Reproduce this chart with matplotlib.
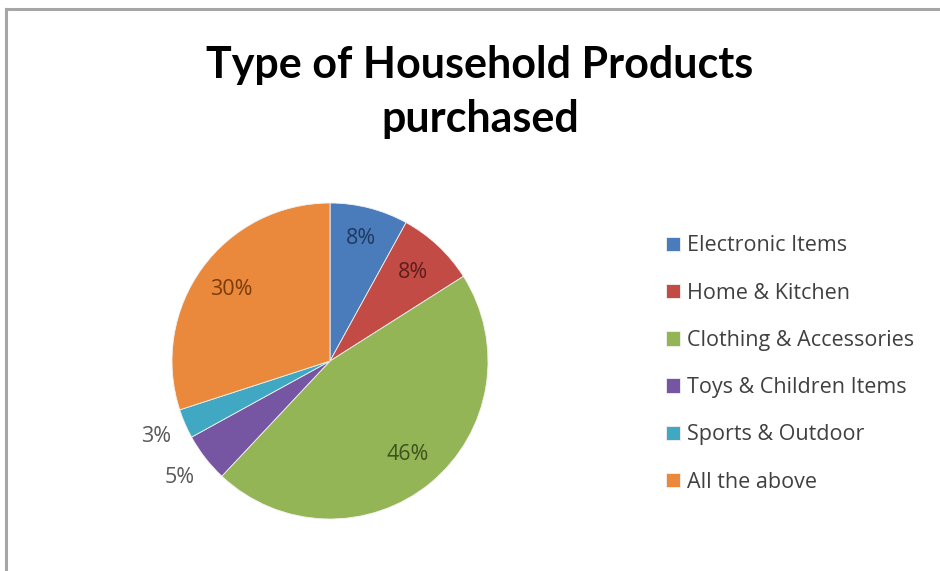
import matplotlib
matplotlib.use("Agg")
import matplotlib.pyplot as plt
import numpy as np

categories = ["Electronic Items", "Home & Kitchen", "Clothing & Accessories",
              "Toys & Children Items", "Sports & Outdoor", "All the above"]
shares = [8, 8, 46, 5, 3, 30]
title = "Type of Household Products\npurchased"

slice_colors = ["#4A7CBC", "#C24B45", "#93B555", "#7655A2", "#40A8C2", "#EA883B"]
label_colors = ["#1F3A60", "#5E1E1C", "#3E5220", "#595959", "#595959", "#7A3C0A"]
label_radius = [0.80, 0.77, 0.77, 1.20, 1.20, 0.77]

plt.rcParams["font.family"] = ["Open Sans", "DejaVu Sans"]

W, H = 940, 571
fig = plt.figure(figsize=(W / 100, H / 100), dpi=100)
fig.patch.set_facecolor("white")

# chart frame lines (top and left edges)
fig.add_artist(plt.Line2D([6 / W, 1], [1 - 9 / H, 1 - 9 / H], color="#A6A6A6", lw=2.2))
fig.add_artist(plt.Line2D([6 / W, 6 / W], [0, 1 - 9 / H], color="#A6A6A6", lw=2.2))

# pie axes: square box centred on the pie
cx, cy, r, half = 330, 361, 158, 200
ax = fig.add_axes([(cx - half) / W, (H - cy - half) / H, 2 * half / W, 2 * half / H])
wedges, _ = ax.pie(shares, colors=slice_colors, startangle=90, counterclock=False,
                   radius=1.0, wedgeprops=dict(edgecolor="#F2F2F2", linewidth=0.6))
lim = half / r
ax.set_xlim(-lim, lim)
ax.set_ylim(-lim, lim)
ax.set_axis_off()

for w, s, col, rad in zip(wedges, shares, label_colors, label_radius):
    mid = np.deg2rad((w.theta1 + w.theta2) / 2)
    ax.text(rad * np.cos(mid), rad * np.sin(mid), f"{s}%", ha="center", va="center",
            fontsize=15.5, color=col)

fig.text(480 / W, 1 - 92 / H, title, ha="center", va="center", fontsize=31,
         fontweight="bold", color="black", linespacing=1.4,
         family=["Lato", "DejaVu Sans"])

leg = fig.legend(wedges, categories, loc="center left",
                 bbox_to_anchor=(655 / W, 1 - 364 / H), frameon=False,
                 fontsize=15.5, handlelength=0.66, handleheight=0.66,
                 handletextpad=0.32, labelspacing=1.22, borderpad=0)
for t in leg.get_texts():
    t.set_color("#404040")

fig.savefig("out.png", dpi=100, facecolor="white")
